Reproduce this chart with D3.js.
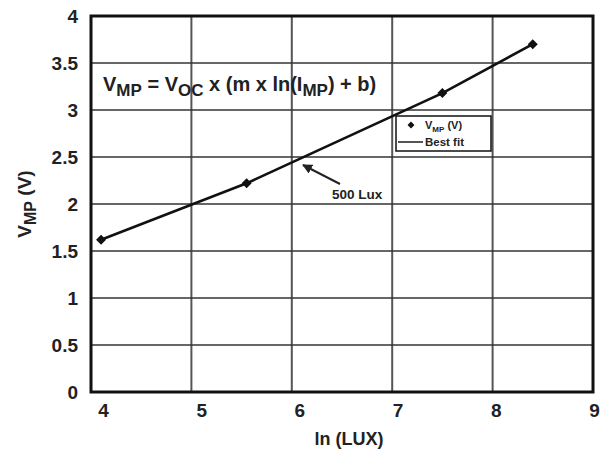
<!DOCTYPE html>
<html>
<head>
<meta charset="utf-8">
<script src="https://cdn.jsdelivr.net/npm/d3@7"></script>
<style>
  html, body { margin: 0; padding: 0; background: #fff; }
  svg text { font-family: "Liberation Sans", Arial, sans-serif; font-weight: bold; fill: #222; }
</style>
</head>
<body>
<svg id="chart" width="604" height="454"></svg>
<script>
// Measured maximum-power-point voltage against ln(illuminance)
const lnLux = [4.1, 5.55, 7.5, 8.4];
const vmp = [1.62, 2.22, 3.18, 3.70];
const xTicks = [4, 5, 6, 7, 8, 9];
const yTicks = [0, 0.5, 1, 1.5, 2, 2.5, 3, 3.5, 4];

const svg = d3.select("#chart");
const plotL = 91, plotR = 593, plotT = 16, plotB = 392;

const x = d3.scaleLinear().domain([4, 9]).range([plotL, plotR]);
const y = d3.scaleLinear().domain([0, 4]).range([plotB, plotT]);
// tick labels sit slightly right of their gridlines, tighter towards the right edge
const xLabel = d3.scaleLinear().domain([4, 9]).range([103, 594]);

// Grid
svg.append("g").selectAll("line").data(xTicks.slice(1, -1)).join("line")
  .attr("x1", d => x(d)).attr("x2", d => x(d))
  .attr("y1", plotT).attr("y2", plotB)
  .attr("stroke", "#555").attr("stroke-width", 2);
svg.append("g").selectAll("line").data(yTicks.slice(1, -1)).join("line")
  .attr("x1", plotL).attr("x2", plotR)
  .attr("y1", d => y(d)).attr("y2", d => y(d))
  .attr("stroke", "#333").attr("stroke-width", 1.6);

// Plot frame
svg.append("rect").attr("x", plotL).attr("y", plotT)
  .attr("width", plotR - plotL).attr("height", plotB - plotT)
  .attr("fill", "none").attr("stroke", "#111").attr("stroke-width", 3);

// Axes (labels only, frame drawn above)
const xAxis = svg.append("g").attr("transform", `translate(0,${plotB})`)
  .call(d3.axisBottom(xLabel).tickValues(xTicks).tickFormat(d3.format("d")).tickSize(0).tickPadding(12));
xAxis.select(".domain").remove();
xAxis.selectAll("text").attr("font-size", 19).attr("font-family", "Liberation Sans, Arial, sans-serif").attr("font-weight", "bold").attr("fill", "#222");

const yAxis = svg.append("g").attr("transform", `translate(${plotL - 13},0)`)
  .call(d3.axisLeft(y).tickValues(yTicks).tickFormat(d => String(d)).tickSize(0).tickPadding(0));
yAxis.select(".domain").remove();
yAxis.selectAll("text").attr("font-size", 19).attr("font-family", "Liberation Sans, Arial, sans-serif").attr("font-weight", "bold").attr("fill", "#222");

// Best-fit line and measured points
const pts = lnLux.map((v, i) => [v, vmp[i]]);
svg.append("path").datum(pts)
  .attr("d", d3.line().x(d => x(d[0])).y(d => y(d[1])))
  .attr("fill", "none").attr("stroke", "#111").attr("stroke-width", 2.6);
svg.append("g").selectAll("path").data(pts).join("path")
  .attr("transform", d => `translate(${x(d[0])},${y(d[1])}) rotate(45)`)
  .attr("d", d3.symbol(d3.symbolSquare, 50))
  .attr("fill", "#111");

// Equation
const eq = svg.append("text").attr("x", 103).attr("y", 91).attr("font-size", 20);
eq.append("tspan").text("V");
eq.append("tspan").attr("dy", 5).attr("font-size", 17).text("MP");
eq.append("tspan").attr("dy", -5).text(" = V");
eq.append("tspan").attr("dy", 5).attr("font-size", 17).text("OC");
eq.append("tspan").attr("dy", -5).text(" x (m x ln(I");
eq.append("tspan").attr("dy", 5).attr("font-size", 17).text("MP");
eq.append("tspan").attr("dy", -5).text(") + b)");

// Legend
const lg = svg.append("g");
lg.append("rect").attr("x", 396).attr("y", 116).attr("width", 95).attr("height", 35)
  .attr("fill", "#fff").attr("stroke", "#111").attr("stroke-width", 1.5);
lg.append("path").attr("transform", "translate(411,125) rotate(45)")
  .attr("d", d3.symbol(d3.symbolSquare, 24)).attr("fill", "#111");
const lt = lg.append("text").attr("x", 425).attr("y", 129).attr("font-size", 11);
lt.append("tspan").text("V");
lt.append("tspan").attr("dy", 3).attr("font-size", 8).text("MP");
lt.append("tspan").attr("dy", -3).text(" (V)");
lg.append("line").attr("x1", 398).attr("x2", 423).attr("y1", 142).attr("y2", 142)
  .attr("stroke", "#555").attr("stroke-width", 2);
lg.append("text").attr("x", 425).attr("y", 146).attr("font-size", 11.5).text("Best fit");

// Annotation at 500 lux
svg.append("defs").append("marker").attr("id", "ah")
  .attr("viewBox", "0 0 10 10").attr("refX", 9).attr("refY", 5)
  .attr("markerWidth", 5).attr("markerHeight", 5).attr("orient", "auto")
  .append("path").attr("d", "M0,0L10,5L0,10z").attr("fill", "#222");
svg.append("line").attr("x1", 340).attr("y1", 184).attr("x2", 303).attr("y2", 165)
  .attr("stroke", "#222").attr("stroke-width", 2).attr("marker-end", "url(#ah)");
svg.append("text").attr("x", 332).attr("y", 199).attr("font-size", 13.5).text("500 Lux");

// Axis titles
svg.append("text").attr("x", 349).attr("y", 445).attr("text-anchor", "middle")
  .attr("font-size", 18).text("ln (LUX)");
const yt = svg.append("text").attr("transform", "translate(31,204) rotate(-90)")
  .attr("text-anchor", "middle").attr("font-size", 19);
yt.append("tspan").text("V");
yt.append("tspan").attr("dy", 5).attr("font-size", 16).text("MP");
yt.append("tspan").attr("dy", -5).text(" (V)");
</script>
</body>
</html>
